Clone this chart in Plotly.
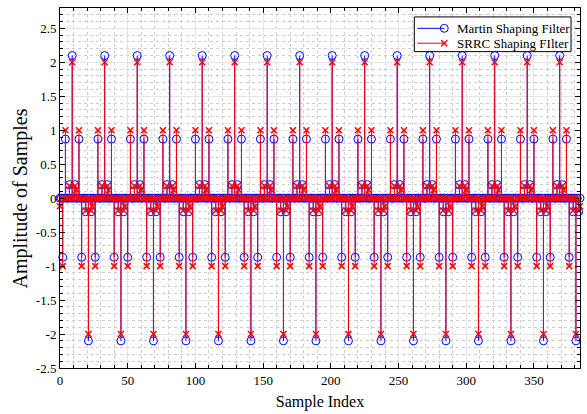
import numpy as np
import plotly.graph_objects as go

# ---- data (one 24-sample period, repeated over the record) ----
n_samples = 385
sample_index = list(range(n_samples))
martin_period = [0, 0, -0.87, 0, 0.87, 0, 0, 0.2, 0, 2.1, 0, 0.2,
                 0, 0, 0.87, 0, -0.87, 0, 0, -0.2, 0, -2.1, 0, -0.2]
srrc_period = [-0.12, 0, -1.0, 0, 1.0, 0, 0, 0.18, 0, 2.0, 0, 0.18,
               0.12, 0, 1.0, 0, -1.0, 0, 0, -0.18, 0, -2.0, 0, -0.18]
martin = list(np.resize(martin_period, n_samples))
srrc = list(np.resize(srrc_period, n_samples))

x_ticks = [0, 50, 100, 150, 200, 250, 300, 350]
y_ticks = [-2.5, -2, -1.5, -1, -0.5, 0, 0.5, 1, 1.5, 2, 2.5]
y_tick_text = ["-2.5", "-2", "-1.5", "-1", "-0.5", "0", "0.5", "1", "1.5", "2", "2.5"]
legend_names = ["Martin Shaping Filter", "SRRC Shaping FIlter"]

FONT = "Liberation Serif, Times New Roman, serif"
BLUE = "#0000ff"
RED = "#ff0000"

W, H = 587, 414
ML, MR, MT, MB = 60, 6, 8, 43
PW, PH = W - ML - MR, H - MT - MB


def px_x(px):
    return (px - ML) / PW


def px_y(py):
    return (H - MB - py) / PH


def stems(xs, ys):
    sx, sy = [], []
    for xv, yv in zip(xs, ys):
        if yv != 0:
            sx += [xv, xv, None]
            sy += [0, yv, None]
    return sx, sy


fig = go.Figure()
bx, by = stems(sample_index, martin)
rx, ry = stems(sample_index, srrc)

fig.add_trace(go.Scatter(x=bx, y=by, mode="lines", line=dict(color=BLUE, width=1),
                         showlegend=False, hoverinfo="skip", cliponaxis=False))
fig.add_trace(go.Scatter(x=sample_index, y=martin, mode="markers",
                         marker=dict(symbol="circle-open", size=8, color=BLUE, line=dict(width=1)),
                         showlegend=False, cliponaxis=False))
fig.add_trace(go.Scatter(x=rx, y=ry, mode="lines", line=dict(color=RED, width=1),
                         showlegend=False, hoverinfo="skip", cliponaxis=False))
fig.add_trace(go.Scatter(x=sample_index, y=srrc, mode="markers",
                         marker=dict(symbol="x-thin-open", size=6, color=RED, line=dict(width=1.5, color=RED)),
                         showlegend=False, cliponaxis=False))

# ---- compact MATLAB-style legend drawn with shapes + annotations ----
shapes = []
annotations = []
shapes.append(dict(type="rect", xref="paper", yref="paper", layer="above",
                   x0=px_x(415), x1=px_x(572), y0=px_y(52), y1=px_y(17),
                   fillcolor="white", line=dict(color="black", width=1)))
rows = [28.5, 43.5]
mk_x = 445
# blue entry
shapes.append(dict(type="line", xref="paper", yref="paper", layer="above",
                   x0=px_x(418), x1=px_x(mk_x), y0=px_y(rows[0]), y1=px_y(rows[0]),
                   line=dict(color=BLUE, width=1)))
shapes.append(dict(type="circle", xref="paper", yref="paper", layer="above",
                   x0=px_x(mk_x - 4), x1=px_x(mk_x + 4), y0=px_y(rows[0] + 4), y1=px_y(rows[0] - 4),
                   line=dict(color=BLUE, width=1), fillcolor="rgba(0,0,0,0)"))
# red entry
shapes.append(dict(type="line", xref="paper", yref="paper", layer="above",
                   x0=px_x(418), x1=px_x(mk_x), y0=px_y(rows[1]), y1=px_y(rows[1]),
                   line=dict(color=RED, width=1)))
shapes.append(dict(type="line", xref="paper", yref="paper", layer="above",
                   x0=px_x(mk_x - 3), x1=px_x(mk_x + 3), y0=px_y(rows[1] - 3), y1=px_y(rows[1] + 3),
                   line=dict(color=RED, width=1.5)))
shapes.append(dict(type="line", xref="paper", yref="paper", layer="above",
                   x0=px_x(mk_x - 3), x1=px_x(mk_x + 3), y0=px_y(rows[1] + 3), y1=px_y(rows[1] - 3),
                   line=dict(color=RED, width=1.5)))
for i, name in enumerate(legend_names):
    annotations.append(dict(xref="paper", yref="paper", x=px_x(456), y=px_y(rows[i]),
                            xanchor="left", yanchor="middle", showarrow=False, text=name,
                            font=dict(family=FONT, size=13, color="black")))

# y-axis label (MATLAB places it slightly below the axis centre)
annotations.append(dict(xref="paper", yref="paper", x=px_x(20), y=px_y(200),
                        xanchor="center", yanchor="middle", showarrow=False, textangle=-90,
                        text="Amplitude of Samples",
                        font=dict(family=FONT, size=20, color="black")))

axis_common = dict(
    showline=True, linecolor="black", linewidth=1, mirror="allticks",
    ticks="inside", ticklen=5, tickcolor="black", tickwidth=1,
    showgrid=True, gridcolor="#e4e4e4", gridwidth=1, zeroline=False,
    tickfont=dict(family=FONT, size=13, color="black"),
)

fig.update_xaxes(
    range=[0, 384], tickvals=x_ticks,
    minor=dict(dtick=10, ticks="inside", ticklen=3, tickcolor="black",
               showgrid=True, gridcolor="#cfcfcf", griddash="dot", gridwidth=1),
    title=dict(text="Sample Index", font=dict(family=FONT, size=16, color="black"), standoff=9),
    **axis_common,
)
fig.update_yaxes(
    range=[-2.5, 2.8], tickvals=y_ticks, ticktext=y_tick_text,
    minor=dict(dtick=0.1, ticks="inside", ticklen=3, tickcolor="black",
               showgrid=True, gridcolor="#cfcfcf", griddash="dot", gridwidth=1),
    **axis_common,
)

fig.update_layout(
    width=W, height=H,
    margin=dict(l=ML, r=MR, t=MT, b=MB),
    paper_bgcolor="white", plot_bgcolor="white",
    font=dict(family=FONT, size=13, color="black"),
    showlegend=False,
    shapes=shapes, annotations=annotations,
)

fig.write_html("out.html")
